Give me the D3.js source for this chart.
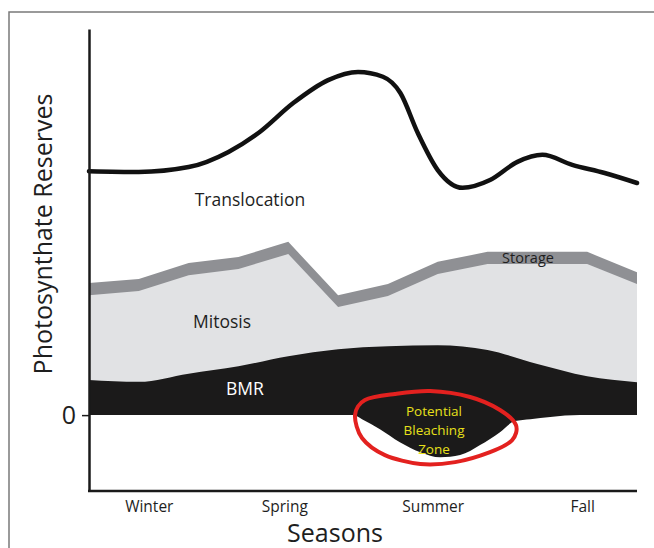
<!DOCTYPE html>
<html>
<head>
<meta charset="utf-8">
<script src="https://cdn.jsdelivr.net/npm/d3@7"></script>
<style>
  html, body { margin: 0; padding: 0; background: #fff; }
  svg { display: block; font-family: "Open Sans", "Noto Sans", sans-serif; }
</style>
</head>
<body>
<svg id="chart" width="654" height="548"></svg>
<script>
// ---- data (arbitrary "reserve" units, month index 0..11) ----
const months = [0, 1, 2, 3, 4, 5, 6, 7, 8, 9, 10, 11];
const bmrTop     = [9.5, 9.0, 11.2, 13.2, 15.9, 17.8, 18.6, 18.9, 17.6, 13.8, 10.5, 8.9];
const mitosisTop = [32.4, 33.5, 37.8, 39.5, 43.5, 29.2, 32.2, 38.1, 40.8, 40.8, 40.8, 35.4];
const storageTop = [35.7, 36.8, 41.1, 42.7, 46.8, 32.4, 35.4, 41.4, 44.1, 44.1, 44.1, 38.6];

const translocX = [0, 1, 2, 2.8, 3.4, 4.1, 4.8, 5.4, 5.9, 6.25, 6.6, 7.0, 7.5, 8.05, 8.6, 9.1, 9.7, 10.35, 11];
const translocY = [65.9, 65.7, 67.0, 71.1, 76.2, 84.3, 90.5, 92.7, 91.4, 87.0, 76.2, 66.2, 61.4, 63.5, 68.4, 70.3, 67.6, 65.4, 62.7];

// BMR lower edge (dips below zero: potential bleaching zone)
const baseX = [0, 5.3, 5.48, 5.84, 6.24, 6.65, 7.05, 7.45, 7.85, 8.25, 8.55, 8.86, 9.26, 9.85, 11];
const baseY = [0, 0, -1.1, -3.8, -7.3, -10.0, -11.4, -10.8, -8.1, -4.6, -1.6, -1.1, -0.5, 0, 0];

// hand-drawn red loop around the bleaching zone
const loopX = [5.34, 5.54, 6.14, 6.85, 7.65, 8.25, 8.57, 8.49, 8.05, 7.35, 6.65, 5.94, 5.48];
const loopY = [0, 4.1, 5.7, 6.5, 4.9, 1.4, -2.7, -6.8, -10.0, -12.7, -13.2, -10.8, -6.2];

const seasons = ["Winter", "Spring", "Summer", "Fall"];
const seasonPos = [1.2, 3.92, 6.9, 9.9];
const yTicks = [0];

// ---- layout ----
const svg = d3.select("#chart");
const x = d3.scaleLinear().domain([0, 11]).range([89, 637]);
const y = d3.scaleLinear().domain([-20.5, 104.3]).range([491, 29]);
const idx = arr => arr.map((v, i) => i);

// outer frame
svg.append("path")
  .attr("d", "M9,548 V12 H654")
  .attr("fill", "none").attr("stroke", "#7a7a7a").attr("stroke-width", 1.5);

const g = svg.append("g");

// storage band (drawn under mitosis)
g.append("path")
  .attr("fill", "#8f9094")
  .attr("d", d3.area().x(i => x(months[i])).y0(y(0)).y1(i => y(storageTop[i])).curve(d3.curveLinear)(idx(months)));

// mitosis
g.append("path")
  .attr("fill", "#e1e2e4")
  .attr("d", d3.area().x(i => x(months[i])).y0(y(0)).y1(i => y(mitosisTop[i])).curve(d3.curveLinear)(idx(months)));

// BMR: top from bmrTop, bottom from baseline with bleaching dip
const topPath = d3.line().x(i => x(months[i])).y(i => y(bmrTop[i])).curve(d3.curveMonotoneX)(idx(months));
const botPath = d3.line().x(i => x(baseX[i])).y(i => y(baseY[i])).curve(d3.curveMonotoneX)(idx(baseX).reverse());
g.append("path")
  .attr("fill", "#1b1a1a")
  .attr("d", topPath + "L" + botPath.slice(1) + "Z");

// translocation line
g.append("path")
  .attr("fill", "none").attr("stroke", "#111").attr("stroke-width", 4.5).attr("stroke-linecap", "round")
  .attr("d", d3.line().x(i => x(translocX[i])).y(i => y(translocY[i])).curve(d3.curveMonotoneX)(idx(translocX)));

// red loop
g.append("path")
  .attr("fill", "none").attr("stroke", "#e3211f").attr("stroke-width", 4)
  .attr("d", d3.line().x(i => x(loopX[i])).y(i => y(loopY[i])).curve(d3.curveCardinalClosed.tension(0.1))(idx(loopX)));

// axes
const xAxis = svg.append("g").attr("transform", `translate(0,${y(-20.5)})`)
  .call(d3.axisBottom(x).tickValues(seasonPos).tickFormat((d, i) => seasons[i]).tickSize(0).tickSizeOuter(0).tickPadding(10));
xAxis.select(".domain").attr("stroke", "#1a1a1a").attr("stroke-width", 2.5).attr("d", `M${x(0) - 1},0H${x(11)}`);
xAxis.selectAll("text").attr("font-size", 15.5).attr("fill", "#1e1e1e").attr("font-family", "'Open Sans', sans-serif");

const yAxis = svg.append("g").attr("transform", `translate(${x(0)},0)`)
  .call(d3.axisLeft(y).tickValues(yTicks).tickFormat(d3.format("d")).tickSize(7).tickSizeOuter(0).tickPadding(6));
yAxis.select(".domain").attr("stroke", "#1a1a1a").attr("stroke-width", 2.5);
yAxis.selectAll(".tick line").attr("stroke", "#1a1a1a").attr("stroke-width", 1.5);
yAxis.selectAll("text").attr("font-size", 25).attr("fill", "#1e1e1e").attr("font-family", "'Open Sans', sans-serif");

// axis titles
svg.append("text").attr("x", 335).attr("y", 542).attr("text-anchor", "middle")
  .attr("font-size", 25).attr("fill", "#1e1e1e").text("Seasons");
svg.append("text").attr("transform", "translate(52,234) rotate(-90)").attr("text-anchor", "middle")
  .attr("font-size", 25).attr("fill", "#1e1e1e").text("Photosynthate Reserves");

// region labels
svg.append("text").attr("x", 250).attr("y", 206).attr("text-anchor", "middle")
  .attr("font-size", 17.5).attr("fill", "#1e1e1e").text("Translocation");
svg.append("text").attr("x", 222).attr("y", 328).attr("text-anchor", "middle")
  .attr("font-size", 17.5).attr("fill", "#1e1e1e").text("Mitosis");
svg.append("text").attr("x", 245).attr("y", 395).attr("text-anchor", "middle")
  .attr("font-size", 17.5).attr("fill", "#fff").text("BMR");
svg.append("text").attr("x", 528).attr("y", 263).attr("text-anchor", "middle")
  .attr("font-size", 14.5).attr("fill", "#1e1e1e").text("Storage");

const bl = ["Potential", "Bleaching", "Zone"];
svg.append("g").selectAll("text").data(bl).join("text")
  .attr("x", 434).attr("y", (d, i) => 416 + i * 19).attr("text-anchor", "middle")
  .attr("font-size", 13.5).attr("fill", "#e8e01a").text(d => d);
</script>
</body>
</html>
